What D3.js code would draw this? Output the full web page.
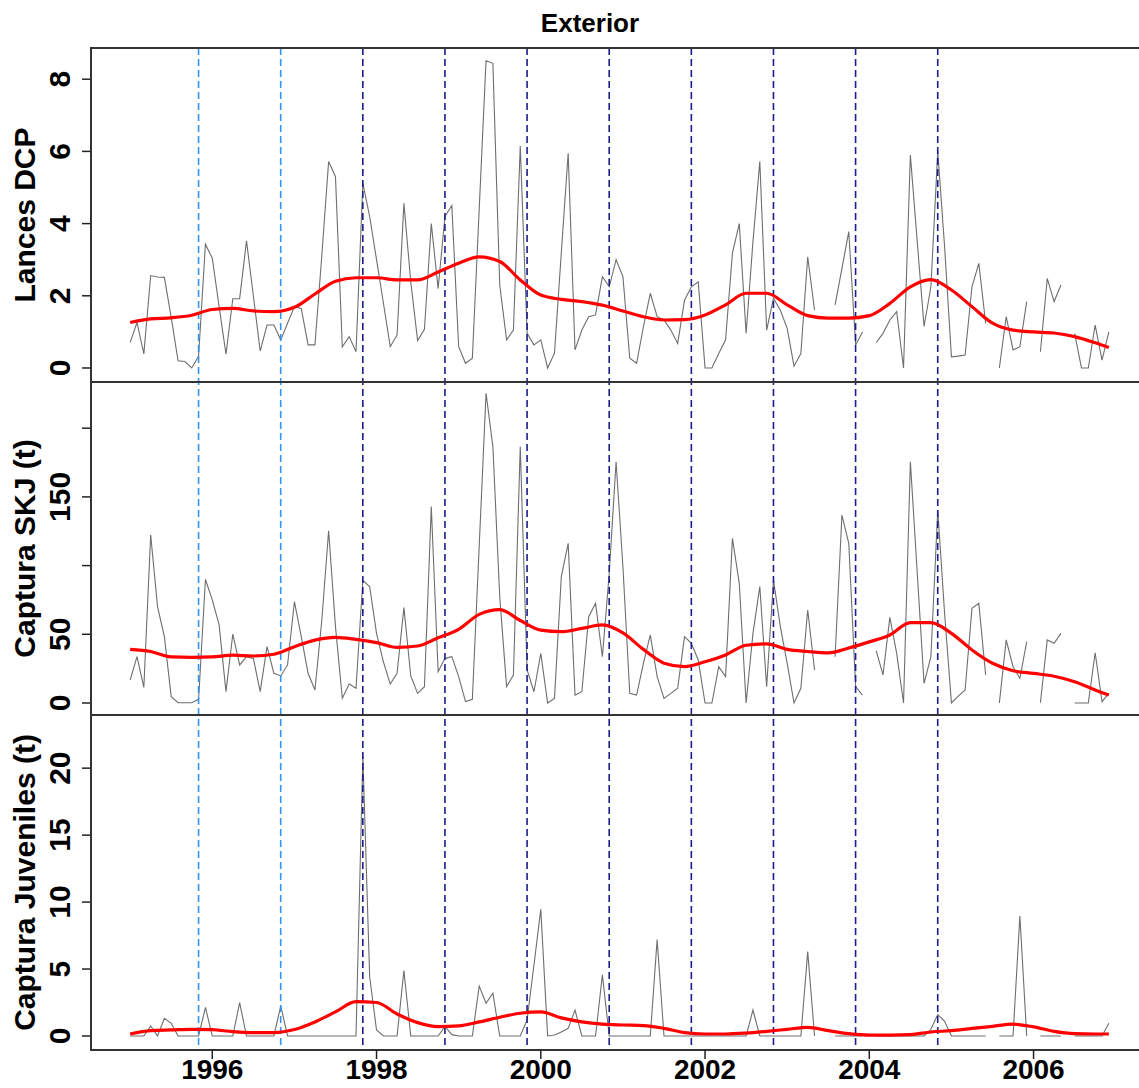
<!DOCTYPE html>
<html>
<head>
<meta charset="utf-8">
<script src="https://cdn.jsdelivr.net/npm/d3@7/dist/d3.min.js"></script>
<style>
  body { margin: 0; background: #fff; }
  svg { display: block; }
  text { font-family: "Liberation Sans", Arial, sans-serif; font-weight: bold; fill: #000; }
</style>
</head>
<body>
<div id="chart"></div>
<script>
// monthly series, Jan 1995 .. Dec 2006 (null = no data)
const startYear = 1995;
const nMonths = 144;

const lances = [
  0.71, 1.26, 0.39, 2.56, 2.52, 2.51, 1.4, 0.2, 0.18, 0.0, 0.33, 3.43,
  3.04, 1.7, 0.38, 1.92, 1.92, 3.52, 2.0, 0.47, 1.19, 1.19, 0.78, 1.24,
  1.7, 1.65, 0.64, 0.64, 3.1, 5.72, 5.3, 0.59, 0.87, 0.45, 5.12, 4.19,
  3.0, 1.8, 0.59, 0.91, 4.56, 2.39, 0.76, 1.07, 4.0, 2.2, 4.2, 4.5,
  0.59, 0.13, 0.27, 4.4, 8.51, 8.44, 2.3, 0.78, 1.05, 6.15, 0.96, 0.64,
  0.78, 0.0, 0.41, 3.2, 5.95, 0.5, 1.05, 1.42, 1.47, 2.53, 2.25, 3.0,
  2.53, 0.27, 0.13, 1.15, 2.07, 1.42, 1.33, 1.05, 0.68, 1.88, 2.25, 2.39,
  0.0, 0.0, 0.4, 0.78, 3.18, 4.0, 0.96, 3.5, 5.72, 1.05, 1.93, 1.6,
  1.1, 0.05, 0.4, 3.08, 1.6, null, null, 1.75, 2.76, 3.78, 0.64, 1.0,
  null, 0.7, 0.96, 1.33, 1.56, 0.0, 5.9, 3.5, 1.15, 2.25, 6.0, 3.36,
  0.31, 0.33, 0.36, 2.25, 2.9, 1.24, null, 0.0, 1.42, 0.5, 0.59, 1.84,
  null, 0.45, 2.48, 1.84, 2.3, null, 0.96, 0.0, 0.0, 1.19, 0.22, 1.0
];

const skj = [
  16.7, 33.7, 11.4, 122.3, 70.1, 48.3, 4.6, 0.2, 0.2, 0.2, 2.7, 89.9,
  75, 56.8, 8.3, 50.2, 27.7, 33.7, 32.5, 8.3, 41, 21.6, 19.7, 27.7,
  73.7, 48.3, 21.6, 9.5, 60, 125.3, 55.6, 3.4, 13.8, 10.7, 89.4, 84.6,
  50.7, 30, 13.8, 21.6, 69.4, 19.7, 7.0, 11.9, 142.9, 22.8, 32.5, 33.7,
  19.2, 1.0, 2.7, 114, 225.4, 186.6, 77.4, 11.9, 20.4, 186.6, 24, 8.2,
  36.1, 0, 3.4, 92, 116.2, 5.8, 8.2, 62.8, 72.5, 33.7, 94.4, 175.6,
  99.2, 7.0, 5.8, 29, 49.5, 19.2, 3.4, 7, 10.7, 48.3, 43.4, 31.3,
  0, 0, 26.4, 19.2, 119.8, 87.1, 0, 50.7, 84.7, 11.9, 89.5, 55.6,
  28.9, 0, 10.7, 67.7, 24, null, null, 33.7, 136.8, 116.2, 12, 5.8,
  null, 38.1, 20.4, 62.3, 36.1, 0, 175.6, 95, 14.3, 33.7, 140.5, 65.3,
  0, 5, 9.5, 68.9, 72.5, 20.4, null, 0, 45.9, 26.4, 18, 44.6,
  null, 0.2, 45.9, 43.4, 50.7, null, 0, 0, 0, 36.6, 1.0, 7.0
];

const juveniles = [
  0, 0, 0, 0.75, 0, 1.32, 0.95, 0, 0, 0, 0, 2.14,
  0, 0, 0, 0, 2.49, 0, 0, 0, 0, 0, 2.24, 0,
  0, 0, 0, 0, 0, 0, 0, 0, 0, 0, 20.9, 4.4,
  0.45, 0, 0, 0, 4.88, 0, 0, 0, 0, 0, 0.72, 0.1,
  0, 0, 0, 3.73, 2.44, 3.19, 0, 0, 0, 0, 1.2, 5.3,
  9.46, 0, 0.07, 0.3, 0.57, 1.94, 0, 0, 0, 4.56, 0, 0,
  0, 0, 0, 0, 0, 7.2, 0, 0, 0, 0, 0, 0,
  0, 0, 0, 0, 0, 0, 0, 1.94, 0, 0, 0, 0,
  0, 0, 0, 6.3, 0, null, null, 0, 0, 0, 0, 0,
  null, 0, 0, 0, 0, 0, 0, 0, 0, 0.5, 1.6, 1.1,
  0, 0, 0, 0, 0, 0, null, 0, 0, 0, 8.96, 0,
  null, 0, 0, 0, 0, null, 0, 0, 0, 0, 0, 0.95
];

// smoothed trend, read every third month
const smoothMonths = [0, 3, 6, 9, 12, 15, 18, 21, 24, 27, 30, 33, 36, 39, 42, 45, 48, 51, 54, 57,
  60, 63, 66, 69, 72, 75, 78, 81, 84, 87, 90, 93, 96, 99, 102, 105, 108, 111, 114, 117,
  120, 123, 126, 129, 132, 135, 138, 141, 143];
const lancesSmooth = [1.26, 1.36, 1.39, 1.46, 1.62, 1.65, 1.58, 1.56, 1.68, 2.05, 2.4, 2.5, 2.5, 2.44,
  2.44, 2.66, 2.9, 3.08, 2.95, 2.44, 2.02, 1.9, 1.84, 1.74, 1.58, 1.42, 1.33, 1.34, 1.47, 1.75,
  2.07, 2.07, 1.75, 1.45, 1.38, 1.38, 1.45, 1.79, 2.25, 2.45, 2.16, 1.7, 1.24, 1.05, 1.0, 0.97,
  0.87, 0.7, 0.57];
const skjSmooth = [39, 37.5, 33.5, 33.2, 33.5, 34.8, 34.2, 35.5, 41, 45.8, 47.8, 46.3, 43.9, 40.5,
  41.5, 47.5, 53.6, 64.5, 68, 60, 53, 51.9, 54.3, 56.8, 51, 39, 29, 26.5, 30, 35, 42, 43, 39,
  37.5, 36.5, 40, 44.5, 49.5, 58.5, 58.5, 50.7, 38.6, 28.9, 23.5, 21.5, 19.5, 15.5, 9.5, 5.8];
const juvSmooth = [0.15, 0.4, 0.45, 0.5, 0.47, 0.32, 0.25, 0.25, 0.48, 1.05, 1.8, 2.56, 2.5, 1.64,
  1.0, 0.7, 0.75, 1.05, 1.4, 1.7, 1.8, 1.35, 1.05, 0.88, 0.82, 0.78, 0.57, 0.25, 0.15, 0.15,
  0.22, 0.35, 0.5, 0.65, 0.4, 0.18, 0.07, 0.07, 0.1, 0.3, 0.4, 0.57, 0.72, 0.88, 0.68, 0.35,
  0.18, 0.15, 0.15];

// vertical reference lines (decimal years)
const lightLines = [1995.833, 1996.833];
const darkLines = [1997.833, 1998.833, 1999.833, 2000.833, 2001.833, 2002.833, 2003.833, 2004.833];

const xTicks = [1996, 1998, 2000, 2002, 2004, 2006];

const panels = [
  { label: 'Lances DCP', values: lances, smooth: lancesSmooth, domain: [-0.388, 8.864],
    ticks: [0, 2, 4, 6, 8], labels: [0, 2, 4, 6, 8], top: 48, bottom: 382 },
  { label: 'Captura SKJ (t)', values: skj, smooth: skjSmooth, domain: [-8.73, 233.6],
    ticks: [0, 50, 100, 150, 200], labels: [0, 50, 150], top: 382, bottom: 715 },
  { label: 'Captura Juveniles (t)', values: juveniles, smooth: juvSmooth, domain: [-1.046, 23.97],
    ticks: [0, 5, 10, 15, 20], labels: [0, 5, 10, 15, 20], top: 715, bottom: 1050 }
];

const width = 1139, height = 1088;
const left = 91;

const svg = d3.select('#chart').append('svg').attr('width', width).attr('height', height);

const t = (i) => startYear + i / 12;
const x = d3.scaleLinear().domain([t(0) - 0.4767, t(nMonths - 1) + 0.4767]).range([left, 1148]);

const top0 = panels[0].top, bottom0 = panels[panels.length - 1].bottom;

panels.forEach((p) => {
  const y = d3.scaleLinear().domain(p.domain).range([p.bottom, p.top]);
  const g = svg.append('g');

  // raw monthly series
  const line = d3
    .line()
    .defined((d) => d != null)
    .x((d, i) => x(t(i)))
    .y((d) => y(d));
  g.append('path')
    .datum(p.values)
    .attr('d', line)
    .attr('fill', 'none')
    .attr('stroke', '#6e6e6e')
    .attr('stroke-width', 1.1);

  // y axis
  g.selectAll('line.tick')
    .data(p.ticks)
    .enter()
    .append('line')
    .attr('x1', left - 9)
    .attr('x2', left)
    .attr('y1', (d) => y(d))
    .attr('y2', (d) => y(d))
    .attr('stroke', '#222')
    .attr('stroke-width', 1.5);
  g.selectAll('text.tl')
    .data(p.labels)
    .enter()
    .append('text')
    .attr('transform', (d) => `translate(70,${y(d)}) rotate(-90)`)
    .attr('text-anchor', 'middle')
    .style('font-size', '30px')
    .text((d) => d);

  g.append('text')
    .attr('transform', `translate(35,${(p.top + p.bottom) / 2}) rotate(-90)`)
    .attr('text-anchor', 'middle')
    .style('font-size', '30px')
    .text(p.label);

  p.y = y;
});

// dashed period lines across all panels
const vl = svg.append('g');
[[lightLines, '#2f95f5'], [darkLines, '#1c1c8c']].forEach(([years, col]) => {
  vl.selectAll(null)
    .data(years)
    .enter()
    .append('line')
    .attr('x1', (d) => x(d))
    .attr('x2', (d) => x(d))
    .attr('y1', top0)
    .attr('y2', bottom0)
    .attr('stroke', col)
    .attr('stroke-width', 1.6)
    .attr('stroke-dasharray', '7,4');
});

// smoothed trends on top
panels.forEach((p) => {
  const sline = d3
    .line()
    .x((d, i) => x(t(smoothMonths[i])))
    .y((d) => p.y(d))
    .curve(d3.curveMonotoneX);
  svg.append('path')
    .datum(p.smooth)
    .attr('d', sline)
    .attr('fill', 'none')
    .attr('stroke', '#ff0000')
    .attr('stroke-width', 3.2);

  svg.append('rect')
    .attr('x', left)
    .attr('y', p.top)
    .attr('width', 1148 - left)
    .attr('height', p.bottom - p.top)
    .attr('fill', 'none')
    .attr('stroke', '#333')
    .attr('stroke-width', 2);
});

// x axis (bottom only)
const xa = svg.append('g');
xa.selectAll('line')
  .data(xTicks)
  .enter()
  .append('line')
  .attr('x1', (d) => x(d))
  .attr('x2', (d) => x(d))
  .attr('y1', bottom0)
  .attr('y2', bottom0 + 9)
  .attr('stroke', '#222')
  .attr('stroke-width', 1.5);
xa.selectAll('text')
  .data(xTicks)
  .enter()
  .append('text')
  .attr('x', (d) => x(d))
  .attr('y', 1079)
  .attr('text-anchor', 'middle')
  .style('font-size', '28px')
  .text((d) => d);

svg.append('text')
  .attr('x', 590)
  .attr('y', 32)
  .attr('text-anchor', 'middle')
  .style('font-size', '26px')
  .text('Exterior');
</script>
</body>
</html>
